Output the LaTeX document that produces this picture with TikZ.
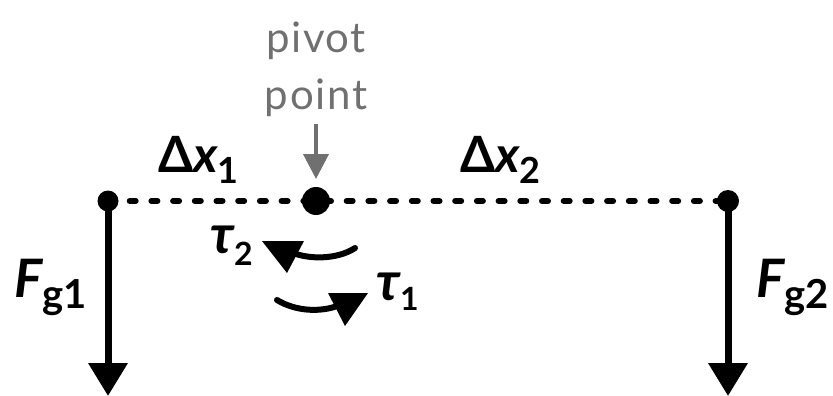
\documentclass[tikz,border=0pt]{standalone}
\usepackage{fontspec}
\setmainfont{Lato}
\newfontfamily\pivfont[LetterSpace=4]{Lato}
\usetikzlibrary{arrows.meta}
\definecolor{pivotgray}{HTML}{707070}
\newcommand{\lblsub}[3]{\raisebox{#1}{\fontsize{#2}{#2}\selectfont\bfseries #3}}
\begin{document}
\begin{tikzpicture}[x=1pt,y=-1pt,
  dot/.style={circle,fill=black,inner sep=0pt,minimum size=#1},
  beam/.style={line width=6pt,line cap=round,dash pattern=on 6pt off 15.7pt},
  force/.style={line width=7pt,-{Triangle[width=38pt,length=33pt]}},
  torque/.style={line width=6pt,line cap=round},
  lbl/.style={inner sep=0pt,anchor=base west}]
\useasboundingbox (0,0) rectangle (833,396);
% dots
\node[dot=21pt] (L) at (108,201) {};
\node[dot=28pt] (P) at (316,201) {};
\node[dot=22pt] (R) at (728,201) {};
\coordinate (Lend) at (108,396);
\coordinate (Rend) at (728,396);
% beam
\draw[beam] (L.center) -- (R.center);
% forces
\draw[force] (L.center) -- (Lend);
\draw[force] (R.center) -- (Rend);
% pivot label
\node[inner sep=0pt,anchor=base,text=pivotgray] (pv) at (316,53) {\fontsize{42}{42}\selectfont\pivfont pivot};
\node[inner sep=0pt,anchor=base,text=pivotgray] (pt) at (316,110) {\fontsize{42}{42}\selectfont\pivfont point};
\coordinate (pa) at (316,124);
\draw[pivotgray,line width=4pt,-{Triangle[width=25pt,length=25pt]}] (pa) -- (316,179);
% labels
\node[lbl] (fg1) at (14,297) {\fontsize{53}{53}\selectfont\bfseries\itshape F\lblsub{-11pt}{40}{\upshape g1}};
\node[lbl] (fg2) at (756,297) {\fontsize{53}{53}\selectfont\bfseries\itshape F\lblsub{-11pt}{40}{\upshape g2}};
\node[lbl] (dx1) at (158,172) {\fontsize{50}{50}\selectfont\bfseries Δ\itshape x\lblsub{-11pt}{36}{\upshape 1}};
\node[lbl] (dx2) at (460,172) {\fontsize{50}{50}\selectfont\bfseries Δ\itshape x\lblsub{-11pt}{36}{\upshape 2}};
\node[lbl] (t2) at (210,253) {\fontsize{54}{54}\selectfont\bfseries\itshape τ\lblsub{-12pt}{32}{\upshape 2}};
\node[lbl] (t1) at (376,300) {\fontsize{54}{54}\selectfont\bfseries\itshape τ\lblsub{-10pt}{32}{\upshape 1}};
% torque arrows
\draw[torque] (355,248) .. controls (340,258) and (315,260) .. (296,254);
\fill (262,241) -- (304,241) -- (287,273) -- cycle;
\draw[torque] (277,300) .. controls (295,311) and (320,313) .. (340,305);
\fill (328,293) -- (368,293) -- (345,326) -- cycle;
\end{tikzpicture}
\end{document}
